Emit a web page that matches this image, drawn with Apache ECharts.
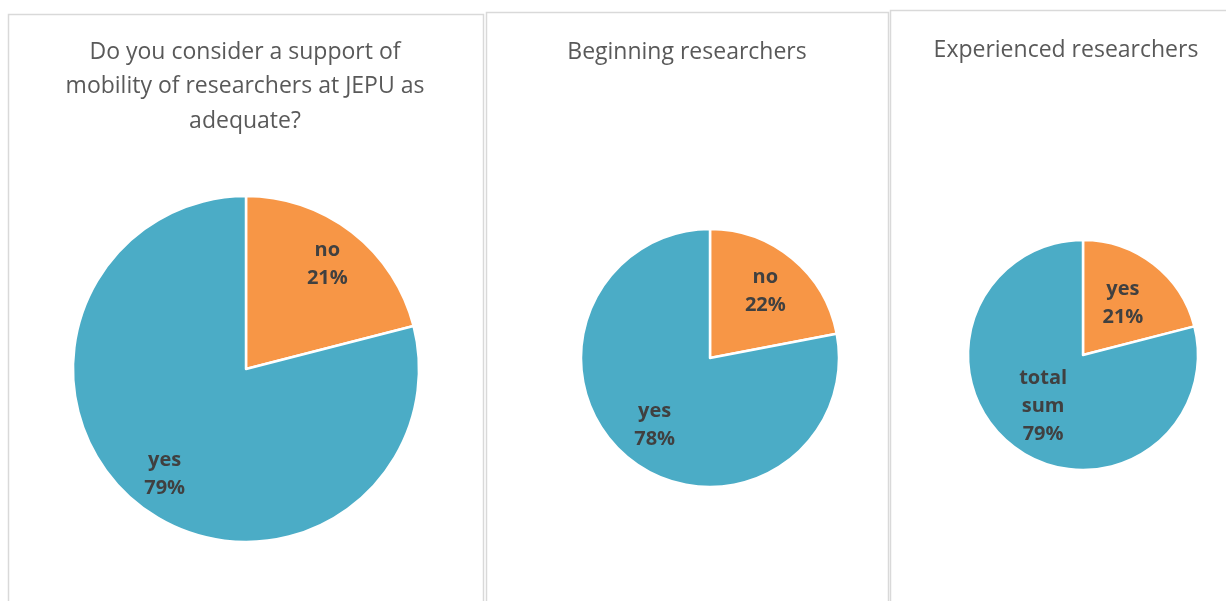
<!DOCTYPE html>
<html>
<head>
<meta charset="utf-8">
<script src="https://cdn.jsdelivr.net/npm/echarts@6/dist/echarts.min.js"></script>
<style>
  html, body { margin: 0; padding: 0; background: #fff; }
  #chart { width: 1226px; height: 601px; }
</style>
</head>
<body>
<div id="chart"></div>
<script>
// data per panel
const titles = [
  'Do you consider a support of\nmobility of researchers at JEPU as\nadequate?',
  'Beginning researchers',
  'Experienced researchers'
]
const names1 = ['no', 'yes']
const values1 = [21, 79]
const names2 = ['no', 'yes']
const values2 = [22, 78]
const names3 = ['yes', 'total sum']
const values3 = [21, 79]

const orange = '#F79646'
const blue = '#4BACC6'
let font = '"Open Sans", sans-serif'

// layout per panel: pie center, radius, label ring inner ratio
const panels = [
  { names: names1, values: values1, cx: 246, cy: 369, r: 173, inner: 0.5, tx: 240, ty: 30 },
  { names: names2, values: values2, cx: 710, cy: 358, r: 129, inner: 0.3, tx: 682, ty: 30 },
  { names: names3, values: values3, cx: 1083, cy: 355, r: 115, inner: 0.08, tx: 1061, ty: 28 }
]
const boxes = [
  { x: 8.5, y: 14.5, w: 475 },
  { x: 486.5, y: 12.5, w: 402 },
  { x: 890.5, y: 10.5, w: 345 }
]

let series = []
panels.forEach((p) => {
  const data = p.names.map((n, i) => ({
    name: n,
    value: p.values[i],
    itemStyle: { color: i === 0 ? orange : blue }
  }))
  // the coloured pie
  series.push({
    type: 'pie',
    silent: true,
    clockwise: true,
    startAngle: 90,
    center: [p.cx, p.cy],
    radius: [0, p.r],
    label: { show: false },
    labelLine: { show: false },
    itemStyle: { borderColor: '#fff', borderWidth: 2.5 },
    data: data
  })
  // transparent ring only used to place the labels further out
  series.push({
    type: 'pie',
    silent: true,
    clockwise: true,
    startAngle: 90,
    center: [p.cx, p.cy],
    radius: [p.r * p.inner, p.r],
    z: 3,
    itemStyle: { color: 'transparent' },
    label: {
      show: true,
      position: 'inside',
      formatter: (d) => d.name.replace(' ', '\n') + '\n' + d.value + '%',
      color: '#404040',
      fontFamily: font,
      fontWeight: 'bold',
      fontSize: 20,
      lineHeight: 28
    },
    labelLine: { show: false },
    data: p.names.map((n, i) => ({ name: n, value: p.values[i] }))
  })
})

const option = {
  animation: false,
  backgroundColor: '#fff',
  title: panels.map((p, i) => ({
    text: titles[i],
    left: p.tx,
    top: p.ty,
    textAlign: 'center',
    textStyle: {
      fontFamily: font,
      fontWeight: 'normal',
      fontSize: 23,
      lineHeight: 34.5,
      color: '#595959'
    }
  })),
  graphic: boxes.map((b) => ({
    type: 'rect',
    silent: true,
    z: -1,
    shape: { x: b.x, y: b.y, width: b.w, height: 700 },
    style: { fill: '#fff', stroke: '#d9d9d9', lineWidth: 1.5 }
  })),
  series: series
}

const myChart = echarts.init(document.getElementById('chart'))
myChart.setOption(option)
</script>
</body>
</html>
